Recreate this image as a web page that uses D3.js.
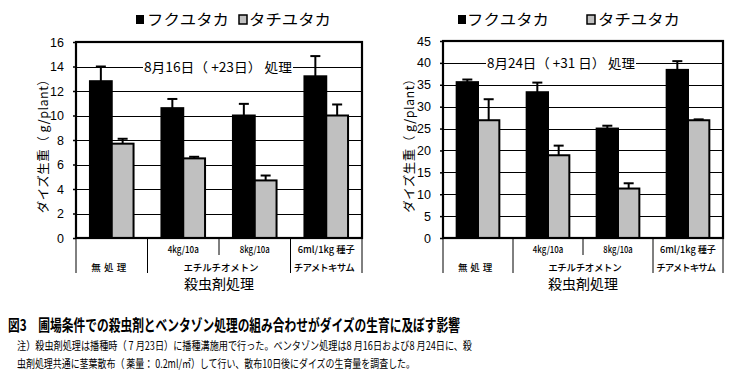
<!DOCTYPE html>
<html><head><meta charset="utf-8">
<script src="https://cdn.jsdelivr.net/npm/d3@7"></script>
<style>
html,body{margin:0;padding:0;background:#fff;}
svg{display:block;font-family:"Noto Sans CJK JP","Noto Sans",sans-serif;}
</style></head>
<body><svg id="c" width="735" height="379"></svg>
<script>
// ---- data ----
const series = ["フクユタカ", "タチユタカ"];
const categories = ["無処理", "4kg/10a", "8kg/10a", "6ml/1kg 種子"];
const groupLabels = ["無処理", "エチルチオメトン", "チアメトキサム"];
const xTitle = "殺虫剤処理";
const yTitle = "ダイズ生重（ g/plant）";

const title16 = "8月16日（ +23日） 処理";
const fuku16 = [12.8, 10.6, 10.0, 13.2];
const fuku16Err = [1.2, 0.75, 0.95, 1.65];
const tachi16 = [7.7, 6.5, 4.7, 10.0];
const tachi16Err = [0.4, 0.13, 0.4, 0.9];
const ticks16 = [0, 2, 4, 6, 8, 10, 12, 14, 16];

const title24 = "8月24日（ +31 日） 処理";
const fuku24 = [35.6, 33.3, 25.0, 38.4];
const fuku24Err = [0.6, 2.2, 0.65, 2.0];
const tachi24 = [26.9, 18.9, 11.3, 26.9];
const tachi24Err = [4.8, 2.2, 1.2, 0.2];
const ticks24 = [0, 5, 10, 15, 20, 25, 30, 35, 40, 45];

const captionTitle = "図3　圃場条件での殺虫剤とベンタゾン処理の組み合わせがダイズの生育に及ぼす影響";
const captionLines = [
  "注）殺虫剤処理は播種時（ 7 月23日）に播種溝施用で行った。ベンタゾン処理は8 月16日および8 月24日に、殺",
  "虫剤処理共通に茎葉散布（ 薬量： 0.2ml/㎡）して行い、散布10日後にダイズの生育量を調査した。"
];

const colors = ["#000000", "#c0c0c0"];

const svg = d3.select("#c");

function drawChart(cfg) {
  const g = svg.append("g");
  const {x0, x1, yTop, yBot} = cfg;
  const y = d3.scaleLinear().domain([0, cfg.max]).range([yBot, yTop]);
  const x = d3.scaleBand().domain(categories).range([x0, x1]).padding(0);
  const xs = d3.scaleBand().domain(series).range([0, x.bandwidth()]).paddingInner(0).paddingOuter(0.64);
  const k = (x1 - x0) / 286;

  // gridlines
  g.selectAll(".grid").data(cfg.ticks.filter(t => t > 0 && t < cfg.max)).join("line")
    .attr("x1", x0).attr("x2", x1)
    .attr("y1", d => Math.round(y(d)) + 0.5).attr("y2", d => Math.round(y(d)) + 0.5)
    .attr("stroke", "#000").attr("stroke-width", 1.2);

  // y axis
  const ax = g.append("g").attr("transform", `translate(${x0},0)`)
    .call(d3.axisLeft(y).tickValues(cfg.ticks).tickSize(3).tickPadding(9));
  ax.select(".domain").remove();
  ax.selectAll("line").attr("stroke", "#000").attr("stroke-width", 1.5);
  ax.selectAll("text").attr("font-family", "Liberation Sans, Arial, sans-serif")
    .attr("font-size", 12.5).attr("fill", "#000");

  // title on gridline
  const tt = g.append("text").attr("x", cfg.titleX).attr("y", y(cfg.titleVal) + 5)
    .attr("text-anchor", "middle").attr("font-size", 13)
    .attr("textLength", cfg.titleW).attr("lengthAdjust", "spacingAndGlyphs")
    .text(cfg.title);
  const bb = tt.node().getBBox();
  g.insert("rect", () => tt.node()).attr("x", bb.x - 1).attr("y", bb.y).attr("width", bb.width + 2).attr("height", bb.height).attr("fill", "#fff");

  // bars
  const data = [cfg.f, cfg.t];
  const errs = [cfg.fe, cfg.te];
  series.forEach((s, si) => {
    categories.forEach((c, ci) => {
      const v = data[si][ci];
      const bx = x(c) + xs(s);
      const bw = xs.bandwidth();
      g.append("rect").attr("x", bx).attr("y", y(v)).attr("width", bw).attr("height", yBot - y(v))
        .attr("fill", colors[si]).attr("stroke", "#000").attr("stroke-width", 2);
      const cx = bx + bw / 2;
      const top = y(v + errs[si][ci]);
      g.append("line").attr("x1", cx).attr("x2", cx).attr("y1", y(v)).attr("y2", top)
        .attr("stroke", "#000").attr("stroke-width", 2);
      g.append("line").attr("x1", cx - 5).attr("x2", cx + 5).attr("y1", top).attr("y2", top)
        .attr("stroke", "#000").attr("stroke-width", 2);
    });
  });

  // frame
  g.append("rect").attr("x", x0).attr("y", yTop).attr("width", x1 - x0).attr("height", yBot - yTop)
    .attr("fill", "none").attr("stroke", "#000").attr("stroke-width", 2.2);

  // category table below axis
  const bw = x.bandwidth();
  const seps = [
    {xx: x0, len: 35}, {xx: x0 + bw, len: 35}, {xx: x0 + 2 * bw, len: 17},
    {xx: x0 + 3 * bw, len: 35}, {xx: x1, len: 35}
  ];
  g.selectAll(".sep").data(seps).join("line")
    .attr("x1", d => d.xx).attr("x2", d => d.xx).attr("y1", yBot).attr("y2", d => yBot + d.len)
    .attr("stroke", "#000").attr("stroke-width", 1);
  const catW = [0, 31, 30, 57];
  categories.forEach((c, i) => {
    if (i === 0) return;
    g.append("text").attr("x", x(c) + bw / 2).attr("y", yBot + 15).attr("text-anchor", "middle")
      .attr("font-size", 9.5).attr("font-weight", 500)
      .attr("textLength", catW[i] * k).attr("lengthAdjust", "spacingAndGlyphs").text(c);
  });
  const gx = [x0 + bw / 2 - 3 * k, x0 + 2 * bw + 2 * k, x0 + 3.5 * bw - 2 * k];
  const gw = [35, 75, 61];
  groupLabels.forEach((l, i) => {
    g.append("text").attr("x", gx[i]).attr("y", yBot + 33).attr("text-anchor", "middle")
      .attr("font-size", 9.5).attr("font-weight", 500)
      .attr("textLength", gw[i] * k).attr("lengthAdjust", "spacing").text(l);
  });
  g.append("text").attr("x", x0 + 2 * bw).attr("y", yBot + 51).attr("text-anchor", "middle")
    .attr("font-size", 14).text(xTitle);

  // y title
  g.append("text").attr("transform", `translate(${cfg.yTitleX},${(yTop + yBot) / 2 + 3}) rotate(-90)`)
    .attr("text-anchor", "middle").attr("font-size", 12.5).attr("letter-spacing", 0.5).text(yTitle);

  // legend
  cfg.legend.forEach((L, i) => {
    g.append("rect").attr("x", L.mx).attr("y", 15).attr("width", 8).attr("height", 9)
      .attr("fill", colors[i]).attr("stroke", "#000").attr("stroke-width", i ? 1.5 : 0);
    g.append("text").attr("x", L.tx).attr("y", 25).attr("font-size", 15)
      .attr("textLength", 82).attr("lengthAdjust", "spacingAndGlyphs").text(series[i]);
  });
}

drawChart({x0: 76, x1: 362, yTop: 42, yBot: 238, max: 16, ticks: ticks16,
  f: fuku16, fe: fuku16Err, t: tachi16, te: tachi16Err,
  title: title16, titleVal: 14, titleX: 218, titleW: 148, yTitleX: 48,
  legend: [{mx: 136, tx: 147}, {mx: 239, tx: 249}]});

drawChart({x0: 443, x1: 723, yTop: 41, yBot: 238, max: 45, ticks: ticks24,
  f: fuku24, fe: fuku24Err, t: tachi24, te: tachi24Err,
  title: title24, titleVal: 40, titleX: 561, titleW: 148, yTitleX: 414,
  legend: [{mx: 458, tx: 467}, {mx: 587, tx: 598}]});

// caption
svg.append("text").attr("x", 8).attr("y", 331).attr("font-size", 16).attr("font-weight", "bold")
  .attr("textLength", 452).attr("lengthAdjust", "spacingAndGlyphs").text(captionTitle);
svg.append("text").attr("x", 17).attr("y", 350).attr("font-size", 11.5)
  .attr("textLength", 455).attr("lengthAdjust", "spacingAndGlyphs").text(captionLines[0]);
svg.append("text").attr("x", 17).attr("y", 368).attr("font-size", 11.5)
  .attr("textLength", 398).attr("lengthAdjust", "spacingAndGlyphs").text(captionLines[1]);
</script></body></html>
